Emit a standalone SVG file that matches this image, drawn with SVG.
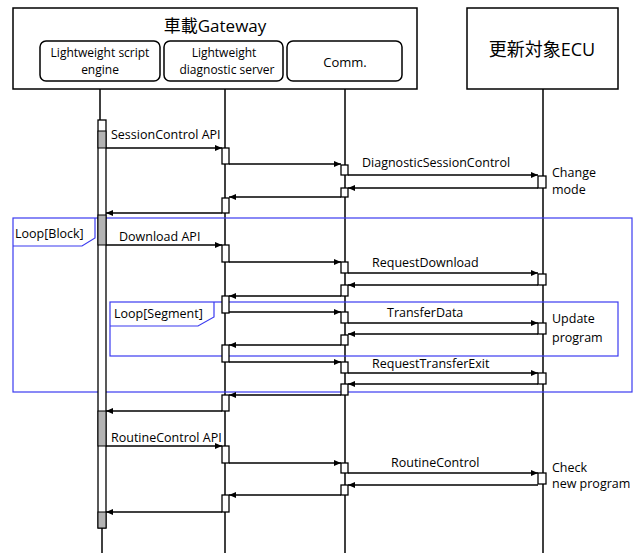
<svg xmlns="http://www.w3.org/2000/svg" width="638" height="553" viewBox="0 0 638 553">
  <style>
    text { font-family: "Open Sans", "Liberation Sans", "Noto Sans CJK JP", sans-serif; fill: #000; }
    .lbl { font-size: 12.5px; }
    .small { font-size: 12px; }
    .head { font-size: 13px; }
    .title { font-size: 17px; }
    .ecu { font-size: 18px; }
    .box { fill: #fff; stroke: #000; stroke-width: 1.5; }
    .inner { fill: #fff; stroke: #000; stroke-width: 1.5; }
    .life { stroke: #000; stroke-width: 1.5; fill: none; }
    .act { fill: #fff; stroke: #000; stroke-width: 1.3; }
    .busy { fill: #b3b3b3; stroke: #000; stroke-width: 1; }
    .msg { stroke: #000; stroke-width: 1.5; fill: none; marker-end: url(#arrow); }
    .frame { fill: none; stroke: #3b3bf0; stroke-width: 1.2; }
  </style>
  <defs>
    <marker id="arrow" markerWidth="8" markerHeight="8" refX="7" refY="4" orient="auto" markerUnits="userSpaceOnUse">
      <path d="M0,1 L7,4 L0,7 Z" fill="#000"/>
    </marker>
  </defs>

  <rect width="638" height="553" fill="#fff"/>

  <!-- lifelines -->
  <g id="lifelines">
    <line class="life" x1="100" y1="89" x2="100" y2="120"/>
    <line class="life" x1="102" y1="528" x2="102" y2="553"/>
    <line class="life" x1="225" y1="89" x2="225" y2="553"/>
    <line class="life" x1="345" y1="89" x2="345" y2="553"/>
    <line class="life" x1="543" y1="89" x2="543" y2="553"/>
  </g>

  <!-- gateway with its three components -->
  <g id="gateway">
    <rect class="box" x="13" y="8" width="404" height="81"/>
    <text class="title" x="215" y="32" text-anchor="middle">車載Gateway</text>
  </g>
  <g id="script-engine">
    <rect class="inner" x="40" y="41" width="120" height="40" rx="6"/>
    <text class="small" x="100" y="57" text-anchor="middle">Lightweight script</text>
    <text class="small" x="100" y="74" text-anchor="middle">engine</text>
  </g>
  <g id="diag-server">
    <rect class="inner" x="164" y="41" width="119" height="40" rx="6"/>
    <text class="small" x="224" y="57" text-anchor="middle">Lightweight</text>
    <text class="small" x="227" y="74" text-anchor="middle">diagnostic server</text>
  </g>
  <g id="comm">
    <rect class="inner" x="287" y="41" width="115" height="40" rx="6"/>
    <text class="head" x="345" y="67" text-anchor="middle">Comm.</text>
  </g>
  <g id="ecu">
    <rect class="box" x="467" y="8" width="151" height="81"/>
    <text class="ecu" x="542" y="56" text-anchor="middle">更新対象ECU</text>
  </g>

  <!-- loop frames -->
  <g id="loop-block">
    <rect class="frame" x="13" y="218" width="619" height="174"/>
    <path class="frame" d="M13,246 H82 L95,238 V218"/>
    <text class="lbl" x="15" y="238">Loop[Block]</text>
  </g>
  <g id="loop-segment">
    <rect class="frame" x="110" y="302" width="508" height="54"/>
    <path class="frame" d="M110,326 H198 L214,317 V302"/>
    <text class="lbl" x="114" y="318">Loop[Segment]</text>
  </g>

  <!-- activation bars -->
  <g id="activations">
    <rect class="act" x="98" y="120" width="8" height="408"/>
    <rect class="busy" x="98" y="131" width="8" height="17"/>
    <rect class="busy" x="98" y="215" width="8" height="30"/>
    <rect class="busy" x="98" y="411" width="8" height="35"/>
    <rect class="busy" x="98" y="512" width="8" height="16"/>

    <rect class="act" x="222" y="148" width="7" height="16"/>
    <rect class="act" x="222" y="198" width="7" height="15"/>
    <rect class="act" x="222" y="245" width="7" height="17"/>
    <rect class="act" x="222" y="296" width="7" height="17"/>
    <rect class="act" x="222" y="345" width="7" height="17"/>
    <rect class="act" x="222" y="395" width="7" height="16"/>
    <rect class="act" x="222" y="446" width="7" height="17"/>
    <rect class="act" x="222" y="495" width="7" height="17"/>

    <rect class="act" x="341" y="165" width="7" height="10"/>
    <rect class="act" x="341" y="188" width="7" height="9"/>
    <rect class="act" x="341" y="262" width="7" height="11"/>
    <rect class="act" x="341" y="285" width="7" height="11"/>
    <rect class="act" x="341" y="312" width="7" height="11"/>
    <rect class="act" x="341" y="335" width="7" height="10"/>
    <rect class="act" x="341" y="362" width="7" height="11"/>
    <rect class="act" x="341" y="384" width="7" height="11"/>
    <rect class="act" x="341" y="463" width="7" height="10"/>
    <rect class="act" x="341" y="485" width="7" height="10"/>

    <rect class="act" x="538" y="176" width="8" height="12"/>
    <rect class="act" x="538" y="274" width="8" height="11"/>
    <rect class="act" x="538" y="323" width="8" height="11"/>
    <rect class="act" x="538" y="373" width="8" height="11"/>
    <rect class="act" x="538" y="473" width="8" height="11"/>
  </g>

  <!-- messages -->
  <g id="connectors">
    <!-- session control -->
    <line class="msg" x1="106" y1="148" x2="222" y2="148"/>
    <line class="msg" x1="229" y1="164" x2="341" y2="164"/>
    <line class="msg" x1="348" y1="175" x2="538" y2="175"/>
    <line class="msg" x1="538" y1="188" x2="348" y2="188"/>
    <line class="msg" x1="341" y1="197" x2="229" y2="197"/>
    <line class="msg" x1="222" y1="213" x2="106" y2="213"/>
    <!-- download -->
    <line class="msg" x1="106" y1="245" x2="222" y2="245"/>
    <line class="msg" x1="229" y1="262" x2="341" y2="262"/>
    <line class="msg" x1="348" y1="273" x2="538" y2="273"/>
    <line class="msg" x1="538" y1="285" x2="348" y2="285"/>
    <line class="msg" x1="341" y1="296" x2="229" y2="296"/>
    <!-- transfer data -->
    <line class="msg" x1="229" y1="312" x2="341" y2="312"/>
    <line class="msg" x1="348" y1="323" x2="538" y2="323"/>
    <line class="msg" x1="538" y1="334" x2="348" y2="334"/>
    <line class="msg" x1="341" y1="345" x2="229" y2="345"/>
    <!-- transfer exit -->
    <line class="msg" x1="229" y1="362" x2="341" y2="362"/>
    <line class="msg" x1="348" y1="373" x2="538" y2="373"/>
    <line class="msg" x1="538" y1="384" x2="348" y2="384"/>
    <line class="msg" x1="341" y1="395" x2="229" y2="395"/>
    <line class="msg" x1="222" y1="411" x2="106" y2="411"/>
    <!-- routine control -->
    <line class="msg" x1="106" y1="446" x2="222" y2="446"/>
    <line class="msg" x1="229" y1="463" x2="341" y2="463"/>
    <line class="msg" x1="348" y1="473" x2="538" y2="473"/>
    <line class="msg" x1="538" y1="485" x2="348" y2="485"/>
    <line class="msg" x1="341" y1="495" x2="229" y2="495"/>
    <line class="msg" x1="222" y1="512" x2="106" y2="512"/>
  </g>

  <!-- message labels and notes -->
  <g id="labels">
    <text class="lbl" x="111" y="139">SessionControl API</text>
    <text class="lbl" x="362" y="167">DiagnosticSessionControl</text>
    <text class="lbl" x="552" y="177">Change</text>
    <text class="lbl" x="552" y="194">mode</text>
    <text class="lbl" x="119" y="241">Download API</text>
    <text class="lbl" x="372" y="267">RequestDownload</text>
    <text class="lbl" x="387" y="317">TransferData</text>
    <text class="lbl" x="552" y="323">Update</text>
    <text class="lbl" x="552" y="342">program</text>
    <text class="lbl" x="372" y="368">RequestTransferExit</text>
    <text class="lbl" x="111" y="442">RoutineControl API</text>
    <text class="lbl" x="391" y="467">RoutineControl</text>
    <text class="lbl" x="552" y="472">Check</text>
    <text class="lbl" x="552" y="488">new program</text>
  </g>
</svg>
